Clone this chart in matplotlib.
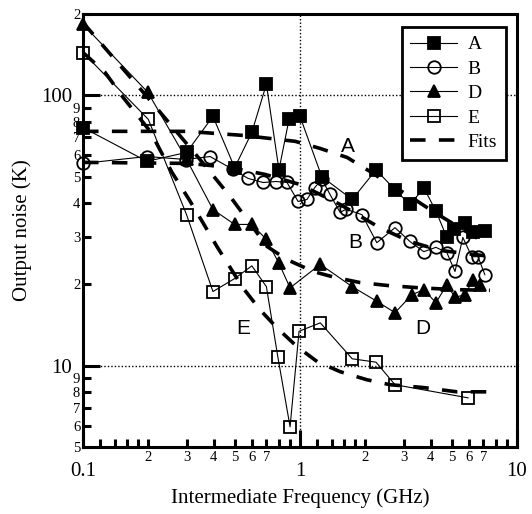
"""Output noise versus intermediate frequency for devices A, B, D and E."""

import matplotlib

matplotlib.use("Agg")
import matplotlib.pyplot as plt
from matplotlib.ticker import FixedLocator, FuncFormatter

# measured points (GHz, K)
A_FREQ = [0.1, 0.197, 0.30, 0.397, 0.50, 0.60, 0.70, 0.80, 0.89, 1.0, 1.26,
          1.74, 2.24, 2.74, 3.2, 3.73, 4.24, 4.75, 5.12, 5.76, 6.27, 7.12]
A_NOISE = [76, 57, 61.5, 83.6, 54, 73, 110, 53, 81.5, 83.6, 50,
           41.2, 53, 44.8, 39.5, 45.3, 37.2, 29.8, 31.9, 33.8, 31.1, 31.4]

B_FREQ = [0.1, 0.197, 0.298, 0.385, 0.491, 0.576, 0.675, 0.775, 0.871, 0.98,
          1.076, 1.17, 1.26, 1.375, 1.53, 1.63, 1.93, 2.26, 2.74, 3.21, 3.72,
          4.23, 4.75, 5.18, 5.63, 6.19, 6.61, 7.11]
B_NOISE = [56, 59.4, 57.9, 59.4, 53.2, 49.3, 47.6, 48, 47.6, 40.5,
           41.2, 45.6, 49, 43, 36.9, 37.9, 36.2, 28.5, 32.4, 28.8, 26.4,
           27.4, 26.2, 22.3, 29.8, 25.3, 25.3, 21.7]

D_FREQ = [0.1, 0.199, 0.30, 0.397, 0.50, 0.60, 0.70, 0.80, 0.90, 1.24, 1.74,
          2.26, 2.74, 3.28, 3.72, 4.23, 4.75, 5.18, 5.76, 6.27, 6.74]
D_NOISE = [183, 102.6, 58, 37.8, 33.3, 33.3, 29.3, 23.9, 19.4, 23.7, 19.6,
           17.3, 15.7, 18.3, 19.1, 17.1, 19.9, 17.9, 18.3, 20.8, 19.9]

E_FREQ = [0.1, 0.2, 0.30, 0.397, 0.50, 0.60, 0.70, 0.79, 0.90, 0.99, 1.24,
          1.74, 2.24, 2.74, 5.95]
E_NOISE = [144, 81.5, 36.2, 18.8, 21.0, 23.4, 19.6, 10.8, 5.94, 13.4, 14.4,
           10.6, 10.3, 8.5, 7.6]

# fitted curves
A_FIT_FREQ = [0.1, 0.3, 0.546, 0.95, 1.24, 1.65, 2.1, 2.6, 3.21, 4.1, 4.9, 7.1]
A_FIT_NOISE = [73.6, 73.6, 71.1, 67.6, 63.6, 58.9, 52.3, 46.8, 42.3, 37.2, 34.1, 28.5]

B_FIT_FREQ = [0.1, 0.31, 0.476, 0.69, 1.0, 1.53, 2.33, 3.21, 4.4, 7.1]
B_FIT_NOISE = [56.5, 56, 54.1, 51, 46.8, 39.5, 32.4, 28.8, 26.7, 25.5]

D_FIT_FREQ = [0.1, 0.197, 0.346, 0.476, 0.705, 0.87, 1.15, 1.45, 1.89, 2.52,
              3.57, 5.29, 7.5]
D_FIT_NOISE = [186, 99, 57.9, 42.3, 27.6, 24.7, 22.3, 21.2, 20.3, 19.8,
               19.4, 19.1, 19.0]

E_FIT_FREQ = [0.1, 0.126, 0.153, 0.204, 0.257, 0.308, 0.357, 0.414, 0.546,
              0.654, 0.783, 0.97, 1.2, 1.53, 2.03, 2.6, 3.69, 5.29, 7.25]
E_FIT_NOISE = [144, 122, 98.3, 73.6, 51.9, 41.2, 33.8, 27.6, 19.4,
               16.1, 13.8, 11.75, 10.35, 9.5, 8.87, 8.5, 8.3, 8.0, 8.0]

CURVE_LABELS = [("A", 348, 147), ("B", 355, 243), ("D", 423, 328), ("E", 243, 328)]

SERIF = ["Liberation Serif", "DejaVu Serif"]
SANS = ["Liberation Sans", "DejaVu Sans"]

X_MINOR = [0.12, 0.14, 0.16, 0.18, 0.2, 0.3, 0.4, 0.5, 0.6, 0.7, 0.8, 0.9,
           1.2, 1.4, 1.6, 1.8, 2, 3, 4, 5, 6, 7, 8, 9]
X_MINOR_LABELED = [0.2, 0.3, 0.4, 0.5, 0.6, 0.7, 2, 3, 4, 5, 6, 7]
Y_MINOR = [5, 6, 7, 8, 9, 20, 30, 40, 50, 60, 70, 80, 90, 200]

plt.rcParams["font.family"] = SERIF

fig = plt.figure(figsize=(5.32, 5.14), dpi=100)
ax = fig.add_axes([83 / 532, 1 - 447 / 514, 434 / 532, 433 / 514])
ax.set_xscale("log")
ax.set_yscale("log")
ax.set_xlim(0.1, 10)
ax.set_ylim(5, 200)

line_kw = dict(color="black", lw=0.8, markersize=9, markeredgewidth=1.3, clip_on=False)
fit_kw = dict(color="black", lw=2.6, linestyle=(0, (4.3, 3.7)))

ax.plot(A_FIT_FREQ, A_FIT_NOISE, **fit_kw, zorder=2)
ax.plot(B_FIT_FREQ, B_FIT_NOISE, **fit_kw, zorder=2)
ax.plot(D_FIT_FREQ, D_FIT_NOISE, **fit_kw, zorder=2)
ax.plot(E_FIT_FREQ, E_FIT_NOISE, **fit_kw, zorder=2)

h_a, = ax.plot(A_FREQ, A_NOISE, marker="s", markerfacecolor="black", **line_kw, zorder=3)
h_b, = ax.plot(B_FREQ, B_NOISE, marker="o", markerfacecolor="none", **line_kw, zorder=3)
h_d, = ax.plot(D_FREQ, D_NOISE, marker="^", markerfacecolor="black", **line_kw, zorder=3)
h_e, = ax.plot(E_FREQ, E_NOISE, marker="s", markerfacecolor="none", **line_kw, zorder=3)
h_fit, = ax.plot([], [], **fit_kw)

for text, px, py in CURVE_LABELS:
    fig.text(px / 532, 1 - py / 514, text, family=SANS, fontsize=15,
             ha="center", va="center")

ax.grid(which="major", linestyle=(0, (1, 1.5)), color="black", lw=1.0)
ax.set_axisbelow(True)

ax.xaxis.set_minor_locator(FixedLocator(X_MINOR))
ax.yaxis.set_minor_locator(FixedLocator(Y_MINOR))


def _x_minor(value, _pos):
    for tick in X_MINOR_LABELED:
        if abs(value - tick) < 1e-6:
            return f"{tick / 10 ** (0 if tick >= 1 else -1):g}"
    return ""


def _y_minor(value, _pos):
    digit = value / 10 ** int(f"{value:e}".split("e")[1])
    return f"{digit:.0f}"


def _major(value, _pos):
    return f"{value:g}"


ax.xaxis.set_major_formatter(FuncFormatter(_major))
ax.yaxis.set_major_formatter(FuncFormatter(_major))
ax.xaxis.set_minor_formatter(FuncFormatter(_x_minor))
ax.yaxis.set_minor_formatter(FuncFormatter(_y_minor))

ax.tick_params(which="both", direction="in", top=False, right=False, width=2.2,
               color="black")
ax.tick_params(which="major", length=12, labelsize=15)
ax.tick_params(which="minor", length=6, labelsize=10.5)
ax.tick_params(axis="x", which="major", pad=11)
ax.tick_params(axis="x", which="minor", pad=3)
ax.tick_params(axis="y", which="major", pad=8)
ax.tick_params(axis="y", which="minor", pad=2)

for spine in ax.spines.values():
    spine.set_linewidth(2.2)

ax.set_xlabel("Intermediate Frequency (GHz)", fontsize=15, labelpad=5)
ax.set_ylabel("Output noise (K)", fontsize=15, labelpad=6)

legend = ax.legend(
    [h_a, h_b, h_d, h_e, h_fit], ["A", "B", "D", "E", "Fits"],
    loc="upper right", bbox_to_anchor=((506 - 83) / 434, 1 - (27 - 14) / 433),
    borderaxespad=0, fontsize=14, handlelength=2.4, handletextpad=0.55,
    labelspacing=0.35, borderpad=0.45, fancybox=False, framealpha=1,
    edgecolor="black",
)
legend.get_frame().set_linewidth(2.0)
legend.set_zorder(5)

fig.savefig("out.png", dpi=100)
